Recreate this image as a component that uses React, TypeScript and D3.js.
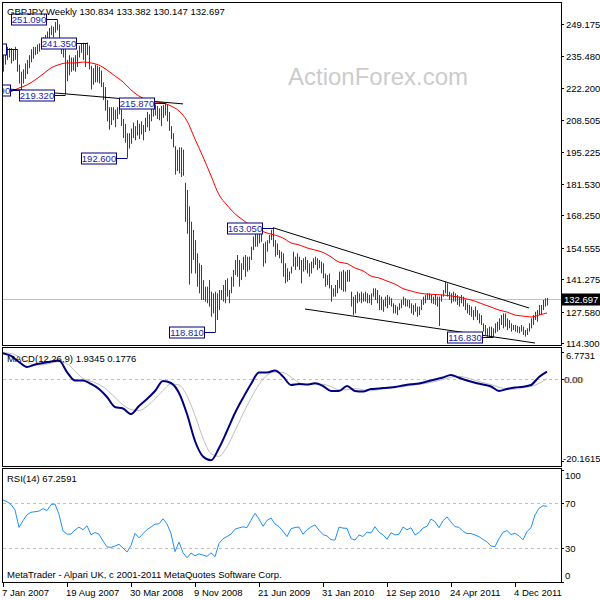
import React from 'react';
import * as d3 from 'd3';

// ---- weekly bars, week 0 = 7 Jan 2007 ----
const highs = [
  236, 238.5, 239.5, 239, 239, 238.5, 239.5, 238.6, 232, 229,
  230, 232.5, 234, 236, 238.5, 239.5, 239.5, 240.5, 241, 241.5,
  243.5, 244.5, 246, 247.5, 248.5, 248, 250, 251.09, 249, 242,
  241, 238.5, 234, 236, 235, 235, 236, 238, 240, 241,
  241.2, 241, 241.35, 240, 231.5, 230.5, 232, 231.5, 231, 229.5,
  224.5, 222.5, 217, 214, 214, 214, 213, 214, 216, 213,
  209, 207, 203, 203, 205, 207.5, 206, 208.5, 207, 208,
  206.5, 209.5, 212, 211, 214, 215, 215.2, 214.5, 213.5, 214.5,
  215, 215.87, 215.3, 212, 206, 203, 197.5, 196, 197, 197,
  196, 182, 179, 172, 165.6, 162.1, 157.8, 152.2, 148, 147.3,
  140.9, 138.1, 138.1, 140.9, 136, 135.3, 136, 135.3, 136.7, 136.7,
  138.8, 140.9, 141.6, 136.7, 142.3, 145.2, 149.4, 151.5, 149.4, 148,
  150.8, 151.5, 150.8, 150.8, 155, 159.3, 162.1, 160.7, 162.8, 160.7,
  156.4, 157.1, 157.8, 160, 162.1, 163.05, 157.8, 156.4, 153.6, 152.9,
  152.2, 148, 145.9, 144.5, 146.6, 152.9, 150.8, 152.2, 150.8, 149.4,
  150.1, 150.8, 149.4, 148, 148.7, 150.1, 150.8, 150.1, 149.4, 148.7,
  148, 143.7, 143, 143.7, 138.8, 137.4, 138.8, 140.9, 144.5, 144.5,
  145.2, 144.5, 145.2, 145.2, 136, 133.9, 134.6, 136, 135.3, 136,
  135.3, 136, 135.3, 134.6, 135.3, 137.4, 137.4, 136.7, 134.6, 133.9,
  132.5, 133.9, 134.6, 133.9, 133.2, 131.1, 130.4, 129.7, 131.1, 132.5,
  133.9, 133.2, 132.5, 132.5, 131.1, 130.4, 131.1, 129.7, 129.7, 132.5,
  133.9, 134.6, 135.3, 135.3, 134.6, 133.9, 134.6, 133.9, 133.9, 134.6,
  136.7, 140.2, 139.5, 136, 135.3, 136, 135.3, 134.6, 133.9, 134.6,
  133.9, 132.5, 131.1, 130.4, 129.7, 128.2, 129.7, 128.2, 126.8, 126.1,
  122.6, 121.9, 120.5, 121.2, 121.2, 120.5, 122.6, 123.3, 124.7, 126.1,
  126.8, 126.8, 124.7, 124, 122.6, 121.9, 121.9, 121.5, 121.2, 121.9,
  121.2, 119.8, 120.5, 122.6, 124.7, 126.1, 127.5, 128.2, 130.4, 130.4,
  132.5, 133.2, 133.382,
];
const lows = [
  229, 232, 234, 235, 232.5, 233.5, 234, 229, 224, 221.09,
  224, 226, 228, 230.5, 233, 234.5, 236, 236.5, 237.5, 238.5,
  239.5, 240.5, 242, 243, 244.5, 243.5, 245.5, 246.5, 241, 236.5,
  235, 219.32, 225, 227.5, 229, 229.5, 229, 231, 235, 237,
  234, 231, 236, 230, 221.5, 223.5, 224.5, 224.5, 224, 222.5,
  217, 212.5, 208, 204.5, 206.5, 208.5, 205.5, 209, 211, 206,
  201, 199, 192.6, 196.5, 198.5, 201, 200, 202, 200.5, 202.5,
  200, 203.5, 205.5, 204, 208, 210, 210.5, 209, 208.5, 206,
  209.5, 210.5, 208, 204, 200.5, 197, 185.5, 187, 186, 184.5,
  185, 165.5, 160.5, 139, 143.7, 149.4, 143.7, 138.1, 135.3, 132.5,
  132.5, 131.8, 131.1, 129.7, 125.4, 126.8, 118.81, 124, 128.2, 132.5,
  131.8, 131.1, 133.9, 131.1, 135.3, 138.1, 143, 142.3, 138.1, 140.9,
  145.2, 142.3, 144.5, 145.2, 149.4, 153.6, 155, 155, 156.4, 157.1,
  146.6, 148, 152.9, 156.4, 157.8, 155, 150.8, 151.5, 150.1, 148,
  142.3, 139.5, 140.2, 140.9, 143.7, 146.6, 145.2, 146.6, 145.2, 139.5,
  144.5, 145.2, 143.7, 142.3, 143.7, 145.9, 147.3, 145.2, 145.9, 143.7,
  141.6, 138.1, 138.8, 137.4, 131.8, 133.9, 133.9, 135.3, 137.4, 136.7,
  136, 136, 140.2, 140.2, 129.7, 126.1, 126.8, 131.1, 131.8, 131.1,
  131.8, 131.8, 131.1, 131.1, 130.4, 133.9, 132.5, 131.1, 128.2, 128.2,
  127.5, 129.7, 129, 130.4, 129.7, 126.8, 126.8, 126.1, 128.2, 129,
  130.4, 129.7, 129.7, 129, 126.8, 126.1, 127.5, 125.4, 126.1, 128.2,
  130.4, 131.1, 132.5, 132.5, 131.1, 130.8, 130.4, 129.7, 121.5, 131.8,
  133.9, 135.3, 133.9, 132.5, 131.1, 131.8, 131.8, 130.4, 129.7, 131.1,
  129.7, 128.2, 126.8, 126.1, 125.4, 124, 125.4, 124, 122.6, 121.9,
  119.1, 117.7, 117, 117, 117, 116.83, 118.4, 119.1, 119.8, 121.9,
  120.5, 121.2, 119.8, 120.5, 119.1, 119.8, 119.1, 118.7, 118.4, 119.1,
  117.7, 117, 117.7, 119.1, 120.5, 121.9, 124, 123.3, 126.1, 126.1,
  128.2, 129.7, 130.147,
];

// red moving average, one value every 4 weeks
const maValues = [
  220.0, 220.6, 222.1, 223.4, 225.5, 228.0, 230.6, 232.0, 232.7, 232.7,
  233.1, 232.7, 231.8, 229.7, 227.2, 224.7, 221.3, 218.7, 217.0, 216.2,
  215.8, 214.5, 212.4, 208.2, 200.5, 193.0, 185.0, 177.0, 172.6, 168.9,
  166.3, 163.8, 162.1, 160.8, 159.9, 158.7, 156.6, 155.8, 154.5, 153.6,
  152.6, 150.7, 148.5, 147.9, 146.0, 144.8, 142.6, 141.8, 140.5, 139.2,
  137.3, 136.3, 135.4, 135.0, 134.8, 134.6, 134.2, 133.7, 132.9, 132.0,
  130.7, 129.5, 128.2, 127.4, 126.1, 125.7, 125.3, 126.1, 127.0,
];

// MACD(12,26,9), one value every 4 weeks
const macdValues = [
  6.5, 5.79, 4.30, 3.07, 3.68, 4.05, 4.42, 4.67, 1.83, -0.27,
  -0.27, -1.13, -2.37, -4.35, -6.82, -7.19, -8.55, -6.57, -4.84, -2.86,
  -0.39, -0.89, -3.36, -8.55, -15.22, -19.05, -20.0, -16.95, -12.75, -8.3,
  -4.59, -1.13, 1.71, 1.71, 2.2, 0.72, -1.38, -1.13, -1.26, -0.96,
  -1.63, -2.86, -2.86, -1.63, -2.86, -2.99, -2.37, -2.25, -2.05, -1.87,
  -1.5, -1.21, -1.01, -0.52, -0.02, 0.47, 1.09, 0.40, -0.27, -0.81,
  -1.26, -1.75, -2.86, -2.37, -2.0, -1.8, -1.38, 0.60, 1.9345,
];
const signalValues = [
  6.6, 6.4, 5.6, 4.37, 3.53, 3.62, 4.05, 4.39, 3.90, 2.02,
  0.26, -0.49, -1.23, -2.56, -4.47, -6.30, -7.44, -7.72, -6.63, -4.78,
  -2.74, -1.13, -1.38, -4.04, -8.92, -14.51, -18.33, -19.0, -16.66, -12.69,
  -8.49, -4.65, -1.29, 1.0, 1.83, 1.71, 0.57, -0.79, -1.23, -1.15,
  -1.20, -1.77, -2.55, -2.55, -2.25, -2.59, -2.80, -2.50, -2.23, -2.06,
  -1.82, -1.52, -1.23, -0.94, -0.52, -0.02, 0.50, 0.76, 0.41, -0.24,
  -0.79, -1.27, -1.91, -2.46, -2.40, -2.04, -1.75, -0.99, 0.1776,
];

// RSI(14), one value every 2 weeks
const rsiValues = [
  72.9, 71.4, 69, 64, 48.5, 54.5, 59.8, 62, 62.5, 63,
  65.2, 63.5, 68.7, 69.4, 60, 45.5, 42.5, 42.6, 46.2, 48.8,
  46.5, 50, 42, 44, 42.5, 36.4, 31.2, 30.8, 32, 33.5,
  30.2, 26.6, 32.5, 43.3, 39.2, 42.9, 46.6, 48.9, 51.4, 51.7,
  56.2, 51.6, 43, 27, 35.5, 26, 21.5, 25.8, 23.3, 25,
  24, 22.8, 25.9, 22.5, 34.2, 38.5, 40.4, 42.6, 47, 48.1,
  49, 48.4, 54.9, 61, 56, 49.5, 54.7, 56.9, 51.6, 49.2,
  45.1, 40.3, 47.3, 48.5, 48.8, 42.4, 46.5, 49, 50.7, 46,
  42.1, 41, 37.6, 37.3, 48.8, 47.9, 47.7, 38.6, 37.3, 41.8,
  40.4, 44.4, 43.5, 49.2, 44.2, 42, 38, 43.8, 41.8, 42.5,
  48.9, 46.5, 48.2, 41.8, 44, 48, 49.5, 56, 53.6, 48.2,
  54.5, 57.9, 53.3, 49.2, 48.6, 45, 43, 43.1, 41.8, 40.3,
  37.8, 35.6, 32, 31.4, 38.5, 44.2, 45.7, 42.2, 43.3, 41.1,
  37.5, 44.8, 48.2, 59.6, 65.5, 67.8, 67.2591,
];

const priceTicks = [249.175, 235.48, 222.2, 208.505, 195.225, 181.53, 168.25, 154.555, 141.275, 127.58, 114.3];
const dateLabels = ['7 Jan 2007', '19 Aug 2007', '30 Mar 2008', '9 Nov 2008', '21 Jun 2009', '31 Jan 2010', '12 Sep 2010', '24 Apr 2011', '4 Dec 2011'];
const dateLabelWeeks = [0, 32, 64, 96, 128, 160, 192, 224, 256];

const labelTexts = ['', '221.090', '251.090', '219.320', '241.350', '192.600', '215.870', '118.810', '163.050', '116.830'];
const labelWeeks = [7, 9, 27, 31, 42, 62, 81, 106, 135, 245];
const labelPrices = [238.6, 221.09, 251.09, 219.32, 241.35, 192.6, 215.87, 118.81, 163.05, 116.83];

// trend lines: [week, price] endpoints
const trendWeeks = [[4, 90], [135, 263], [151, 266]];
const trendPrices = [[221.6, 215.4], [163.05, 129.1], [128.67, 114.3]];

const lastOHLC = [130.834, 133.382, 130.147, 132.697];
const macdRange = [-20.1615, 6.7731];
const rsiLevels = [70, 30];
const rsiTicks = [100, 70, 30, 0];

const FONT = "'Liberation Sans', Arial, sans-serif";
const BAR = '#134c6c';
const NAVY = '#000080';

export default function App() {
  const n = highs.length;
  const x = d3.scaleLinear().domain([0, n - 1]).range([3, 3 + 2 * (n - 1)]);
  const yP = d3.scaleLinear().domain([114.3, 249.175]).range([343, 24]);
  const yM = d3.scaleLinear().domain(macdRange).range([461, 352]);
  const yR = d3.scaleLinear().domain([0, 100]).range([582, 469.5]);

  const maPath = d3.line<number>().x((_, k) => x(k * 4)).y((d) => yP(d)).curve(d3.curveMonotoneX)(maValues) || '';
  const macdPath = d3.line<number>().x((_, k) => x(k * 4)).y((d) => yM(d)).curve(d3.curveMonotoneX)(macdValues) || '';
  const sigPath = d3.line<number>().x((_, k) => x(k * 4)).y((d) => yM(d)).curve(d3.curveMonotoneX)(signalValues) || '';
  const rsiPath = d3.line<number>().x((_, k) => x(k * 2)).y((d) => yR(d))(rsiValues) || '';

  const f3 = d3.format('.3f');
  const lastY = Math.round(yP(lastOHLC[3])) + 0.5;

  return (
    <svg width={600} height={600} style={{ position: 'absolute', left: 0, top: 0, background: '#fff' }} fontFamily={FONT}>
      <defs>
        <clipPath id="mainClip"><rect x={3} y={3} width={558} height={342} /></clipPath>
        <clipPath id="macdClip"><rect x={3} y={348} width={558} height={118} /></clipPath>
        <clipPath id="rsiClip"><rect x={3} y={469} width={558} height={113} /></clipPath>
      </defs>
      <rect x={0} y={0} width={600} height={600} fill="#fff" />

      {/* main panel */}
      <g clipPath="url(#mainClip)">
        <text x={288} y={85} fontSize={24} fill="#cccccc">ActionForex.com</text>
        <line x1={3} x2={561} y1={lastY} y2={lastY} stroke="#c0c0c0" strokeWidth={1} />
        {highs.map((h, i) => {
          const xi = x(i) + 0.5;
          const y1 = yP(h);
          const y2 = Math.max(yP(lows[i]), y1 + 1);
          return <line key={i} x1={xi} x2={xi} y1={y1} y2={y2} stroke={BAR} strokeWidth={1} />;
        })}
        <path d={maPath} fill="none" stroke="#ff0000" strokeWidth={1} />
        {trendWeeks.map((w, k) => (
          <line key={k} x1={x(w[0])} x2={x(w[1])} y1={yP(trendPrices[k][0])} y2={yP(trendPrices[k][1])} stroke="#000" strokeWidth={1} />
        ))}
        {labelTexts.map((t, k) => {
          const bx = x(labelWeeks[k]) + 0.5;
          const py = Math.round(yP(labelPrices[k])) + 0.5;
          const right = bx - 11;
          const left = right - 35;
          return (
            <g key={k}>
              <line x1={right} x2={bx} y1={py} y2={py} stroke={NAVY} strokeWidth={1} />
              <rect x={left} y={py - 5.5} width={35} height={11} fill="#fff" stroke={NAVY} strokeWidth={1} />
              <text x={left + 17.5} y={py + 3.5} fontSize={9.5} fill="#1c1ca8" textAnchor="middle">{t}</text>
            </g>
          );
        })}
      </g>
      <text x={7} y={15} fontSize={9.5} fill="#000">
        {`GBPJPY,Weekly  ${lastOHLC.map((v) => f3(v)).join(' ')}`}
      </text>

      {/* MACD panel */}
      <g clipPath="url(#macdClip)">
        <line x1={3} x2={561} y1={Math.round(yM(0)) + 0.5} y2={Math.round(yM(0)) + 0.5} stroke="#c0c0c0" strokeDasharray="3,3" />
        <path d={sigPath} fill="none" stroke="#c0c0c0" strokeWidth={1} />
        <path d={macdPath} fill="none" stroke={NAVY} strokeWidth={2} />
      </g>
      <text x={7} y={362} fontSize={9.5} fill="#000">{`MACD(12,26,9) ${macdValues[macdValues.length - 1].toFixed(4)} ${signalValues[signalValues.length - 1].toFixed(4)}`}</text>

      {/* RSI panel */}
      <g clipPath="url(#rsiClip)">
        {rsiLevels.map((l) => (
          <line key={l} x1={3} x2={561} y1={Math.round(yR(l)) + 0.5} y2={Math.round(yR(l)) + 0.5} stroke="#c0c0c0" strokeDasharray="3,3" />
        ))}
        <path d={rsiPath} fill="none" stroke="#1e90ff" strokeWidth={1} />
      </g>
      <text x={7} y={482} fontSize={9.5} fill="#000">{`RSI(14) ${rsiValues[rsiValues.length - 1].toFixed(4)}`}</text>
      <text x={7} y={577.5} fontSize={9.5} fill="#000">MetaTrader - Alpari UK, c 2001-2011 MetaQuotes Software Corp.</text>

      {/* frames */}
      <rect x={2.5} y={2.5} width={559} height={343} fill="none" stroke="#000" />
      <rect x={2.5} y={347.5} width={559} height={119} fill="none" stroke="#000" />
      <rect x={2.5} y={468.5} width={559} height={114} fill="none" stroke="#000" />

      {/* price axis */}
      {priceTicks.map((p) => {
        const ty = Math.round(yP(p)) + 0.5;
        return (
          <g key={p}>
            <line x1={561} x2={564} y1={ty} y2={ty} stroke="#000" />
            <text x={566} y={ty + 3.5} fontSize={9.5} fill="#000">{f3(p)}</text>
          </g>
        );
      })}
      <rect x={562} y={lastY - 6} width={38} height={12} fill="#000" />
      <text x={564} y={lastY + 3.5} fontSize={9.5} fill="#fff">{f3(lastOHLC[3])}</text>

      {/* MACD axis */}
      <line x1={561} x2={564} y1={Math.round(yM(macdRange[1])) + 0.5} y2={Math.round(yM(macdRange[1])) + 0.5} stroke="#000" />
      <text x={566} y={358.5} fontSize={9.5} fill="#000">{macdRange[1].toFixed(4)}</text>
      <line x1={561} x2={564} y1={Math.round(yM(0)) + 0.5} y2={Math.round(yM(0)) + 0.5} stroke="#000" />
      <text x={564} y={Math.round(yM(0)) + 4} fontSize={9.5} fill={NAVY}>0.00</text>
      <text x={565} y={Math.round(yM(0)) + 4} fontSize={9.5} fill="#c89000">0.00</text>
      <line x1={561} x2={564} y1={Math.round(yM(macdRange[0])) + 0.5} y2={Math.round(yM(macdRange[0])) + 0.5} stroke="#000" />
      <text x={563} y={461.5} fontSize={9.5} fill="#000">{macdRange[0].toFixed(4)}</text>

      {/* RSI axis */}
      {rsiTicks.map((t) => {
        const ty = Math.round(yR(t)) + 0.5;
        const ly = t === 100 ? 479 : t === 0 ? 579 : ty + 3.5;
        return (
          <g key={t}>
            <line x1={561} x2={564} y1={ty} y2={ty} stroke="#000" />
            <text x={565} y={ly} fontSize={9.5} fill="#000">{t}</text>
          </g>
        );
      })}

      {/* time axis */}
      {dateLabelWeeks.map((w, k) => {
        const tx = x(w) + 0.5;
        return (
          <g key={w}>
            <line x1={tx} x2={tx} y1={583} y2={587} stroke="#000" />
            <text x={tx - 1.5} y={595.5} fontSize={9.5} fill="#000">{dateLabels[k]}</text>
          </g>
        );
      })}
    </svg>
  );
}
